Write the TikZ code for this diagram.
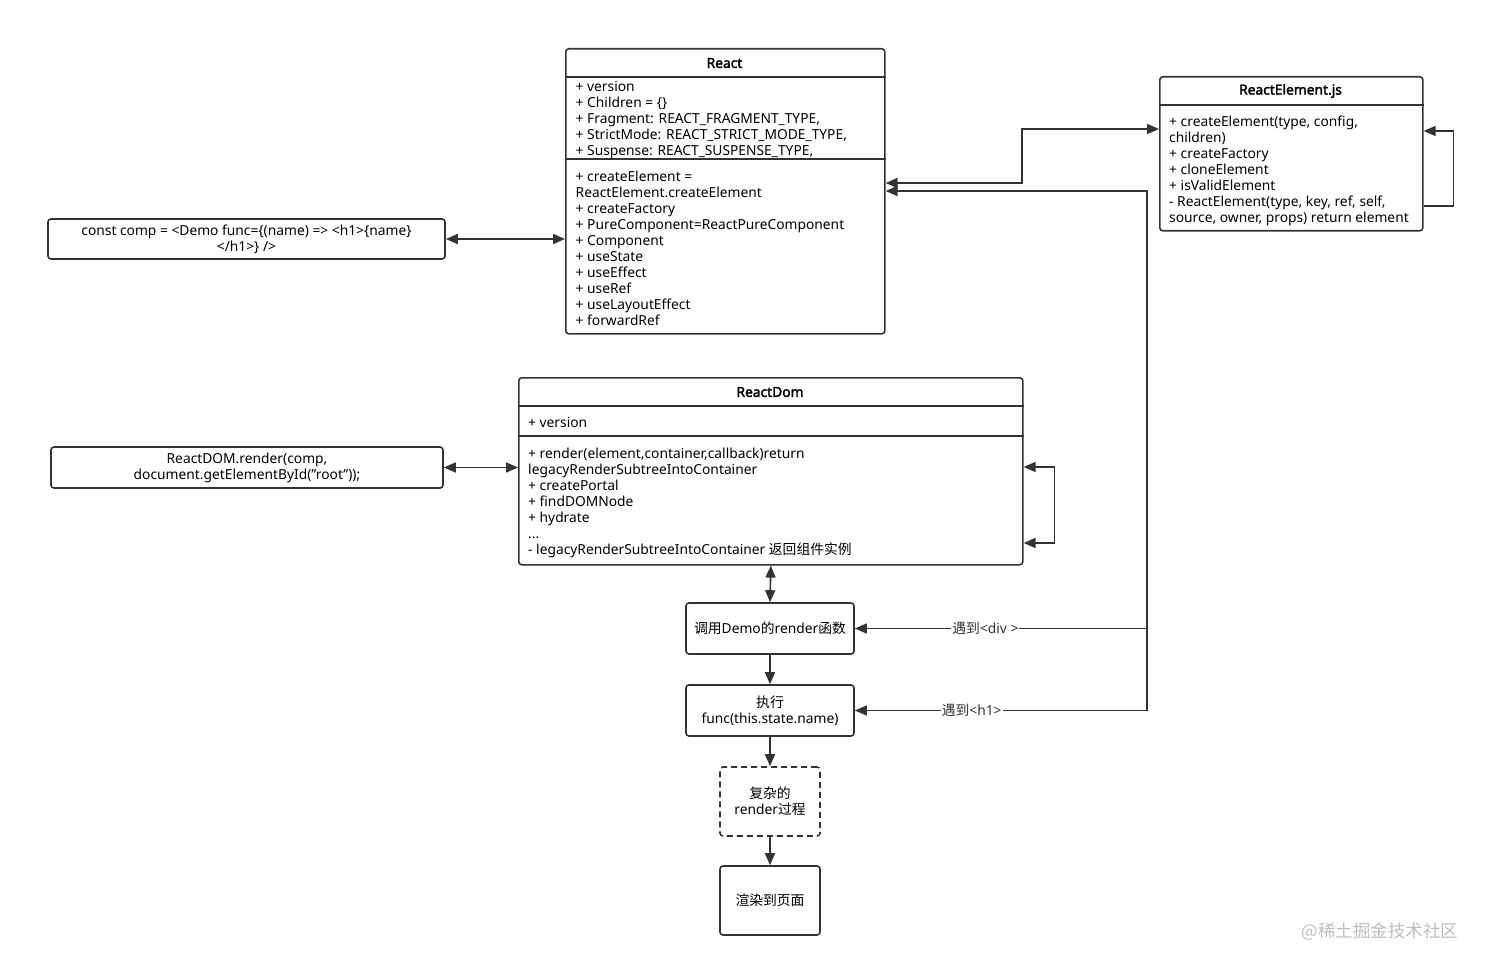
\documentclass[tikz,border=0pt]{standalone}
\usepackage{fontspec}
\setmainfont{Noto Sans}
\newfontfamily\cjk{Noto Sans CJK SC}
\newfontfamily\headfont{Noto Sans}[FakeBold=2.2]
\usetikzlibrary{arrows.meta,positioning}
\definecolor{inkgrey}{RGB}{51,51,51}
\definecolor{markgrey}{RGB}{190,190,190}

\begin{document}
\begin{tikzpicture}[x=1pt, y=-1pt, font=\fontsize{13.8}{16}\selectfont,
    umlbox/.style={draw=inkgrey, line width=1.6pt, rounded corners=3pt, inner sep=0pt, anchor=north west},
    codebox/.style={draw=inkgrey, line width=1.6pt, rounded corners=3pt, inner sep=0pt, align=center},
    flowbox/.style={draw=inkgrey, line width=1.6pt, rounded corners=3pt, inner sep=0pt, align=center,
      minimum width=168pt, minimum height=51pt},
    member/.style={anchor=north west, align=left, inner sep=0pt},
    classname/.style={font=\headfont\fontsize{13.8}{16}\selectfont},
    divider/.style={inkgrey, line width=1.6pt},
    oneway/.style={inkgrey, line width=1.6pt, -{Triangle[length=12pt,width=10pt]}},
    twoway/.style={inkgrey, line width=1.6pt, {Triangle[length=12pt,width=10pt]}-{Triangle[length=12pt,width=10pt]}},
    edgelabel/.style={fill=white, inner sep=1pt}]
  \useasboundingbox (0,0) rectangle (1485,968);

  % React class
  \node[umlbox, minimum width=319pt, minimum height=285pt] (react) at (565,48) {};
  \node[classname] (reactname) at (724.5,63) {React};
  \draw[divider] ([yshift=-29pt]react.north west) -- ([yshift=-29pt]react.north east);
  \draw[divider] ([yshift=-111pt]react.north west) -- ([yshift=-111pt]react.north east);
  \node[member] (reactattr) at (575.5,80.4) {\strut+ version\\+ Children = \{\}\\
    + Fragment: REACT\_FRAGMENT\_TYPE,\\+ StrictMode: REACT\_STRICT\_MODE\_TYPE,\\
    + Suspense: REACT\_SUSPENSE\_TYPE,};
  \node[member] (reactops) at (575.5,170.4) {\strut+ createElement =\\ReactElement.createElement\\
    + createFactory\\+ PureComponent=ReactPureComponent\\+ Component\\+ useState\\
    + useEffect\\+ useRef\\+ useLayoutEffect\\+ forwardRef};

  % ReactElement.js
  \node[umlbox, minimum width=263pt, minimum height=154pt] (relem) at (1159,76) {};
  \node[classname] (relemname) at (1290.5,91) {ReactElement.js};
  \draw[divider] ([yshift=-29pt]relem.north west) -- ([yshift=-29pt]relem.north east);
  \node[member] (relemops) at (1169,115.4) {\strut+ createElement(type, config,\\children)\\
    + createFactory\\+ cloneElement\\+ isValidElement\\- ReactElement(type, key, ref, self,\\
    source, owner, props) return element};

  % ReactDom class
  \node[umlbox, minimum width=504pt, minimum height=187pt] (rdom) at (518,377) {};
  \node[classname] (rdomname) at (770,392) {ReactDom};
  \draw[divider] ([yshift=-29pt]rdom.north west) -- ([yshift=-29pt]rdom.north east);
  \draw[divider] ([yshift=-59pt]rdom.north west) -- ([yshift=-59pt]rdom.north east);
  \node[member] (rdomattr) at (528,416.4) {\strut+ version};
  \node[member] (rdomops) at (528,447.4) {\strut+ render(element,container,callback)return\\
    legacyRenderSubtreeIntoContainer\\+ createPortal\\+ findDOMNode\\+ hydrate\\...\\
    - legacyRenderSubtreeIntoContainer {\cjk 返回组件实例}};

  % code snippets on the left
  \node[codebox, minimum width=397pt, minimum height=40pt] (comp) at (246.5,239)
    {const comp = <Demo func=\{(name) => <h1>\{name\}\\</h1>\} />};
  \node[codebox, minimum width=392pt, minimum height=41pt] (rcall) at (247,467.5)
    {ReactDOM.render(comp,\\document.getElementById("root"));};

  % render flow
  \node[flowbox] (calldemo) at (770,628.5) {{\cjk 调用}Demo{\cjk 的}render{\cjk 函数}};
  \node[flowbox] (exec) at (770,710.5) {{\cjk 执行}\\func(this.state.name)};
  \node[flowbox, dashed, dash pattern=on 6pt off 4pt, minimum width=100pt, minimum height=69pt]
    (renderproc) at (770,801.5) {{\cjk 复杂的}\\render{\cjk 过程}};
  \node[flowbox, minimum width=100pt, minimum height=69pt] (paint) at (770,900.5) {{\cjk 渲染到页面}};

  % connectors
  \draw[twoway] (comp.east) -- (comp.east -| react.west);
  \draw[twoway] (rcall.east) -- (rcall.east -| rdom.west);
  \coordinate (jog) at (1022,129);
  \draw[twoway] ([yshift=-135pt]react.north east) -| (jog) -- (jog -| relem.west);
  \draw[oneway] ([yshift=-130pt]relem.north east) -- ++(30,0) |- ([yshift=-55pt]relem.north east);
  \draw[twoway] ([yshift=-90pt]rdom.north east) -- ++(31,0) |- ([yshift=-166pt]rdom.north east);
  \draw[twoway] (rdom.south) -- (calldemo.north);
  \draw[oneway] (calldemo.south) -- (exec.north);
  \draw[oneway] (exec.south) -- (renderproc.north);
  \draw[oneway] (renderproc.south) -- (paint.north);
  % element type dispatch
  \coordinate (spine) at (1147,710.5);
  \draw[oneway] (spine) |- ([yshift=-143pt]react.north east);
  \draw[oneway] (calldemo.east -| spine) -- node[edgelabel, pos=0.553] {{\cjk 遇到}<div >} (calldemo.east);
  \draw[oneway] (spine) -- node[edgelabel, pos=0.6] {{\cjk 遇到}<h1>} (exec.east);

  % watermark
  \node[text=markgrey, font=\cjk\fontsize{17.5}{20}\selectfont] (mark) at (1380,932) {@稀土掘金技术社区};
\end{tikzpicture}
\end{document}
